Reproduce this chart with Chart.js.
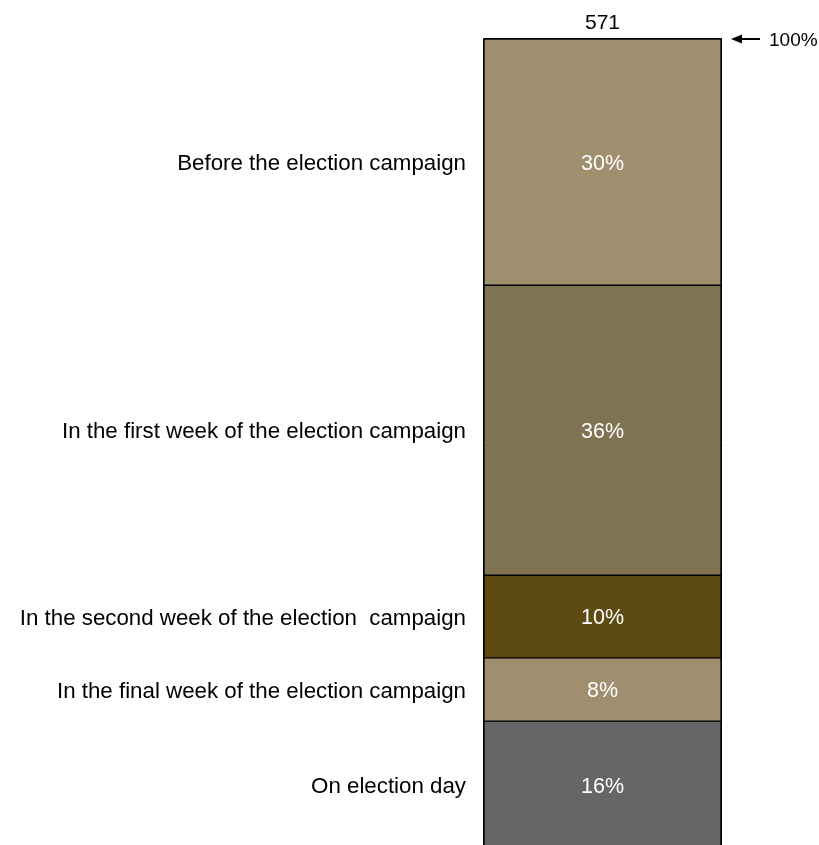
<!DOCTYPE html>
<html>
<head>
<meta charset="utf-8">
<script src="https://cdn.jsdelivr.net/npm/chart.js@4/dist/chart.umd.min.js"></script>
<style>
html,body{margin:0;padding:0;background:#fff;overflow:hidden;}
#wrap{width:819px;height:845px;position:relative;}
</style>
</head>
<body>
<div id="wrap"><canvas id="c" width="819" height="845"></canvas></div>
<script>
const categories = ["All"];
const segmentLabels = [
  "Before the election campaign",
  "In the first week of the election campaign",
  "In the second week of the election  campaign",
  "In the final week of the election campaign",
  "On election day"
];
const segmentValues = [30.4, 35.8, 10.2, 7.8, 15.7];
const segmentColors = ["#A08F6F", "#7F7352", "#5E4B12", "#A08F6F", "#666666"];
const totalN = "571";
const markerLabel = "100%";

const FONT = "'Liberation Sans', Arial, sans-serif";

const labelPlugin = {
  id: 'labels',
  afterDatasetsDraw(chart) {
    const ctx = chart.ctx;
    ctx.save();
    // outer outline of the whole bar
    const first = chart.getDatasetMeta(0).data[0];
    const last = chart.getDatasetMeta(chart.data.datasets.length - 1).data[0];
    const left = first.x - first.width / 2, right = first.x + first.width / 2;
    ctx.strokeStyle = '#000';
    ctx.lineWidth = 1;
    ctx.beginPath();
    ctx.moveTo(left - 0.5, last.y);
    ctx.lineTo(left - 0.5, first.base - 0.5);
    ctx.lineTo(right + 0.5, first.base - 0.5);
    ctx.lineTo(right + 0.5, last.y);
    ctx.stroke();

    chart.data.datasets.forEach((ds, i) => {
      const el = chart.getDatasetMeta(i).data[0];
      const cy = (el.y + el.base) / 2 + 2;
      ctx.fillStyle = '#ffffff';
      ctx.font = '21.5px ' + FONT;
      ctx.textAlign = 'center';
      ctx.textBaseline = 'middle';
      ctx.fillText(Math.round(ds.data[0]) + '%', el.x, cy);
      ctx.fillStyle = '#000000';
      ctx.font = '22.3px ' + FONT;
      ctx.textAlign = 'right';
      ctx.fillText(ds.label, 466, cy);
    });
    const cx = (left + right) / 2;
    ctx.fillStyle = '#000';
    ctx.font = '21px ' + FONT;
    ctx.textAlign = 'center';
    ctx.textBaseline = 'middle';
    ctx.fillText(totalN, cx, 23);
    // arrow
    const ay = chart.scales.y.getPixelForValue(0);
    ctx.lineWidth = 2;
    ctx.beginPath();
    ctx.moveTo(740, ay);
    ctx.lineTo(760, ay);
    ctx.stroke();
    ctx.beginPath();
    ctx.moveTo(731, ay);
    ctx.lineTo(742, ay - 4.5);
    ctx.lineTo(742, ay + 4.5);
    ctx.closePath();
    ctx.fill();
    ctx.font = '19px ' + FONT;
    ctx.textAlign = 'left';
    ctx.fillText(markerLabel, 769, ay + 2);
    ctx.restore();
  }
};

new Chart(document.getElementById('c'), {
  type: 'bar',
  data: {
    labels: categories,
    datasets: segmentLabels.map((lab, i) => ({
      label: lab,
      data: [segmentValues[i]],
      backgroundColor: segmentColors[i],
      borderColor: '#000000',
      borderWidth: 1,
      borderSkipped: false,
      barPercentage: 1,
      categoryPercentage: 1
    }))
  },
  options: {
    responsive: false,
    animation: false,
    events: [],
    layout: { padding: { left: 484, right: 98, top: 39, bottom: 0 } },
    plugins: { legend: { display: false }, tooltip: { enabled: false } },
    scales: {
      x: { stacked: true, display: false },
      y: { stacked: true, display: false, reverse: true, min: 0, max: 99.5 }
    }
  },
  plugins: [labelPlugin]
});
</script>
</body>
</html>
